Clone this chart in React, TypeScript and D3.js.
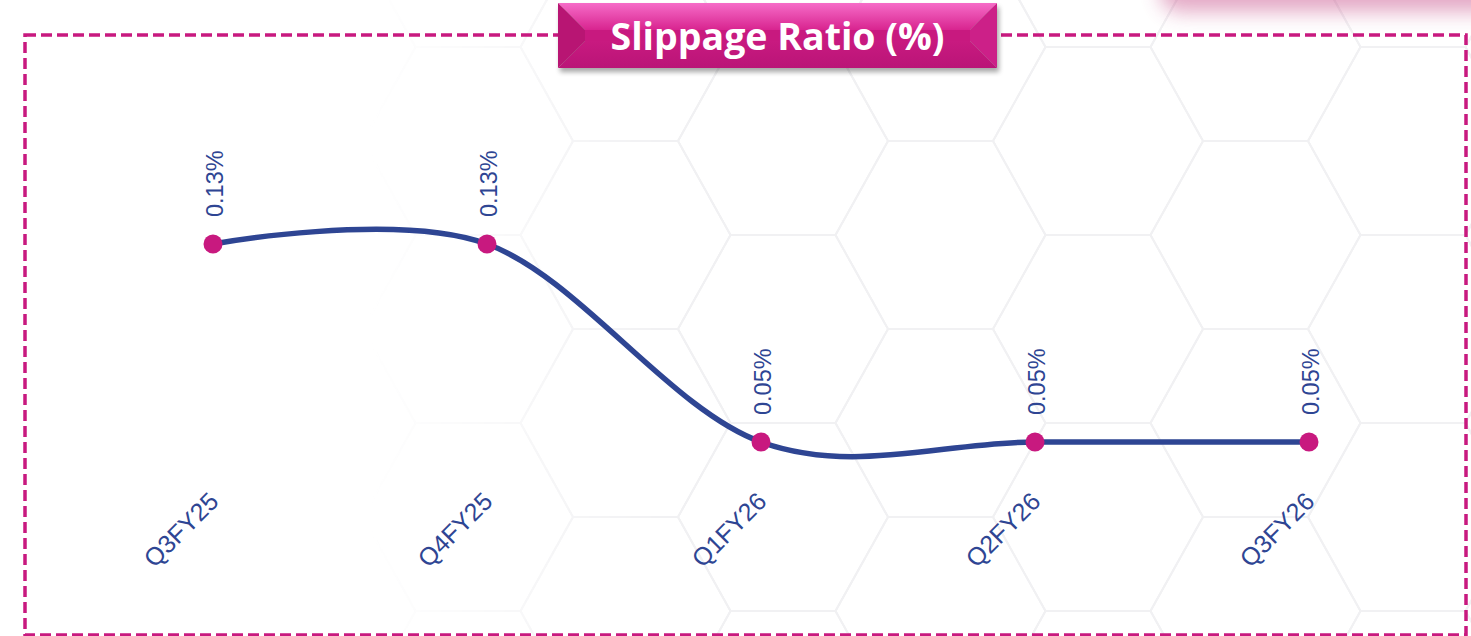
import React from "react";
import * as d3 from "d3";

const categories = ["Q3FY25", "Q4FY25", "Q1FY26", "Q2FY26", "Q3FY26"];
const slippage = [0.13, 0.13, 0.05, 0.05, 0.05];
const valueLabels = ["0.13%", "0.13%", "0.05%", "0.05%", "0.05%"];
const title = "Slippage Ratio (%)";

const W = 1471;
const H = 636;

const LINE = "#2E4593";
const MAGENTA = "#C8197F";

function hexPaths(): string[] {
  const a = 105; // horizontal edge length
  const hh = 94; // half height
  const colStep = 157.5;
  const cx0 = 625.5;
  const cy0 = 235;
  const out: string[] = [];
  for (let c = -5; c <= 7; c++) {
    const cx = cx0 + c * colStep;
    const off = c % 2 === 0 ? 0 : hh;
    for (let r = -2; r <= 4; r++) {
      const cy = cy0 + off + r * 2 * hh;
      const pts: [number, number][] = [
        [cx - a, cy],
        [cx - a / 2, cy - hh],
        [cx + a / 2, cy - hh],
        [cx + a, cy],
        [cx + a / 2, cy + hh],
        [cx - a / 2, cy + hh],
      ];
      out.push("M" + pts.map((p) => p.join(",")).join("L") + "Z");
    }
  }
  return out;
}

export default function App() {
  const x = d3.scalePoint<string>().domain(categories).range([213, 1309]);
  const y = d3.scaleLinear().domain([0, 0.14]).range([565.75, 219.25]);

  const pts = categories.map((c, i) => ({ c, v: slippage[i], l: valueLabels[i] }));
  const line = d3
    .line<{ c: string; v: number }>()
    .x((d) => x(d.c) as number)
    .y((d) => y(d.v))
    .curve(d3.curveCardinal.tension(0));

  const bx0 = 558,
    bx1 = 997,
    by0 = 3,
    by1 = 68;
  const bev = 27;

  return (
    <svg
      width={W}
      height={H}
      style={{ position: "absolute", left: 0, top: 0, background: "#fff" }}
    >
      <defs>
        <linearGradient id="fadeL" x1="0" x2={W} y1="0" y2="0" gradientUnits="userSpaceOnUse">
          <stop offset="0.25" stopColor="#fff" stopOpacity="0" />
          <stop offset="0.45" stopColor="#fff" stopOpacity="1" />
          <stop offset="1" stopColor="#fff" stopOpacity="1" />
        </linearGradient>
        <mask id="hexMask">
          <rect x={0} y={0} width={W} height={H} fill="url(#fadeL)" />
        </mask>
        <linearGradient id="topBev" x1="0" x2="0" y1="0" y2="1">
          <stop offset="0" stopColor="#F66CC8" />
          <stop offset="1" stopColor="#D8248F" />
        </linearGradient>
        <linearGradient id="botBev" x1="0" x2="0" y1="0" y2="1">
          <stop offset="0" stopColor="#C81A80" />
          <stop offset="1" stopColor="#BA1477" />
        </linearGradient>
        <filter id="shadow" x="-10%" y="-30%" width="130%" height="180%">
          <feGaussianBlur stdDeviation="2.5" />
        </filter>
        <filter id="blob" x="-50%" y="-200%" width="200%" height="500%">
          <feGaussianBlur stdDeviation="10" />
        </filter>
      </defs>

      {/* hex background */}
      <g mask="url(#hexMask)">
        {hexPaths().map((d, i) => (
          <path key={i} d={d} fill="none" stroke="#F1F1F3" strokeWidth={2} />
        ))}
      </g>

      {/* pink blob top right */}
      <rect x={1160} y={-40} width={360} height={52} rx={20} fill="#C2407F" opacity={0.45} filter="url(#blob)" />

      {/* dashed frame */}
      <rect
        x={25}
        y={35}
        width={1441}
        height={600}
        fill="none"
        stroke={MAGENTA}
        strokeWidth={3.5}
        strokeDasharray="11 5"
      />

      {/* title box */}
      <rect x={bx0 + 2} y={by0 + 4} width={bx1 - bx0} height={by1 - by0} fill="#000" opacity={0.35} filter="url(#shadow)" />
      <polygon points={`${bx0},${by0} ${bx1},${by0} ${bx1 - bev},${by0 + bev} ${bx0 + bev},${by0 + bev}`} fill="url(#topBev)" />
      <rect x={bx0 + bev} y={by0 + bev} width={bx1 - bx0 - 2 * bev} height={by1 - by0 - 2 * bev} fill={MAGENTA} />
      <polygon points={`${bx0},${by1} ${bx1},${by1} ${bx1 - bev},${by1 - bev} ${bx0 + bev},${by1 - bev}`} fill="url(#botBev)" />
      <polygon points={`${bx0},${by0} ${bx0 + bev},${by0 + bev} ${bx0 + bev},${by1 - bev} ${bx0},${by1}`} fill="#B81573" />
      <polygon points={`${bx1},${by0} ${bx1 - bev},${by0 + bev} ${bx1 - bev},${by1 - bev} ${bx1},${by1}`} fill="#CC2088" />
      <text
        x={(bx0 + bx1) / 2}
        y={50}
        textAnchor="middle"
        fill="#fff"
        fontFamily="'Open Sans', sans-serif"
        fontWeight={700}
        fontSize={37.5}
      >
        {title}
      </text>

      {/* line */}
      <path d={line(pts) || ""} fill="none" stroke={LINE} strokeWidth={5.5} />
      {pts.map((d, i) => (
        <circle key={i} cx={x(d.c)} cy={y(d.v)} r={9.5} fill={MAGENTA} />
      ))}

      {/* value labels */}
      {pts.map((d, i) => (
        <text
          key={"v" + i}
          transform={`translate(${(x(d.c) as number) + 2},${y(d.v) - 27}) rotate(-90)`}
          textAnchor="start"
          dominantBaseline="central"
          fill={LINE}
          fontFamily="'Liberation Sans', Arial, sans-serif"
          fontSize={23.5}
        >
          {d.l}
        </text>
      ))}

      {/* category labels */}
      {categories.map((c, i) => (
        <text
          key={"c" + i}
          transform={`translate(${(x(c) as number) + 7},${503}) rotate(-45)`}
          textAnchor="end"
          fill={LINE}
          fontFamily="'Liberation Sans', Arial, sans-serif"
          fontSize={25}
        >
          {c}
        </text>
      ))}
    </svg>
  );
}
